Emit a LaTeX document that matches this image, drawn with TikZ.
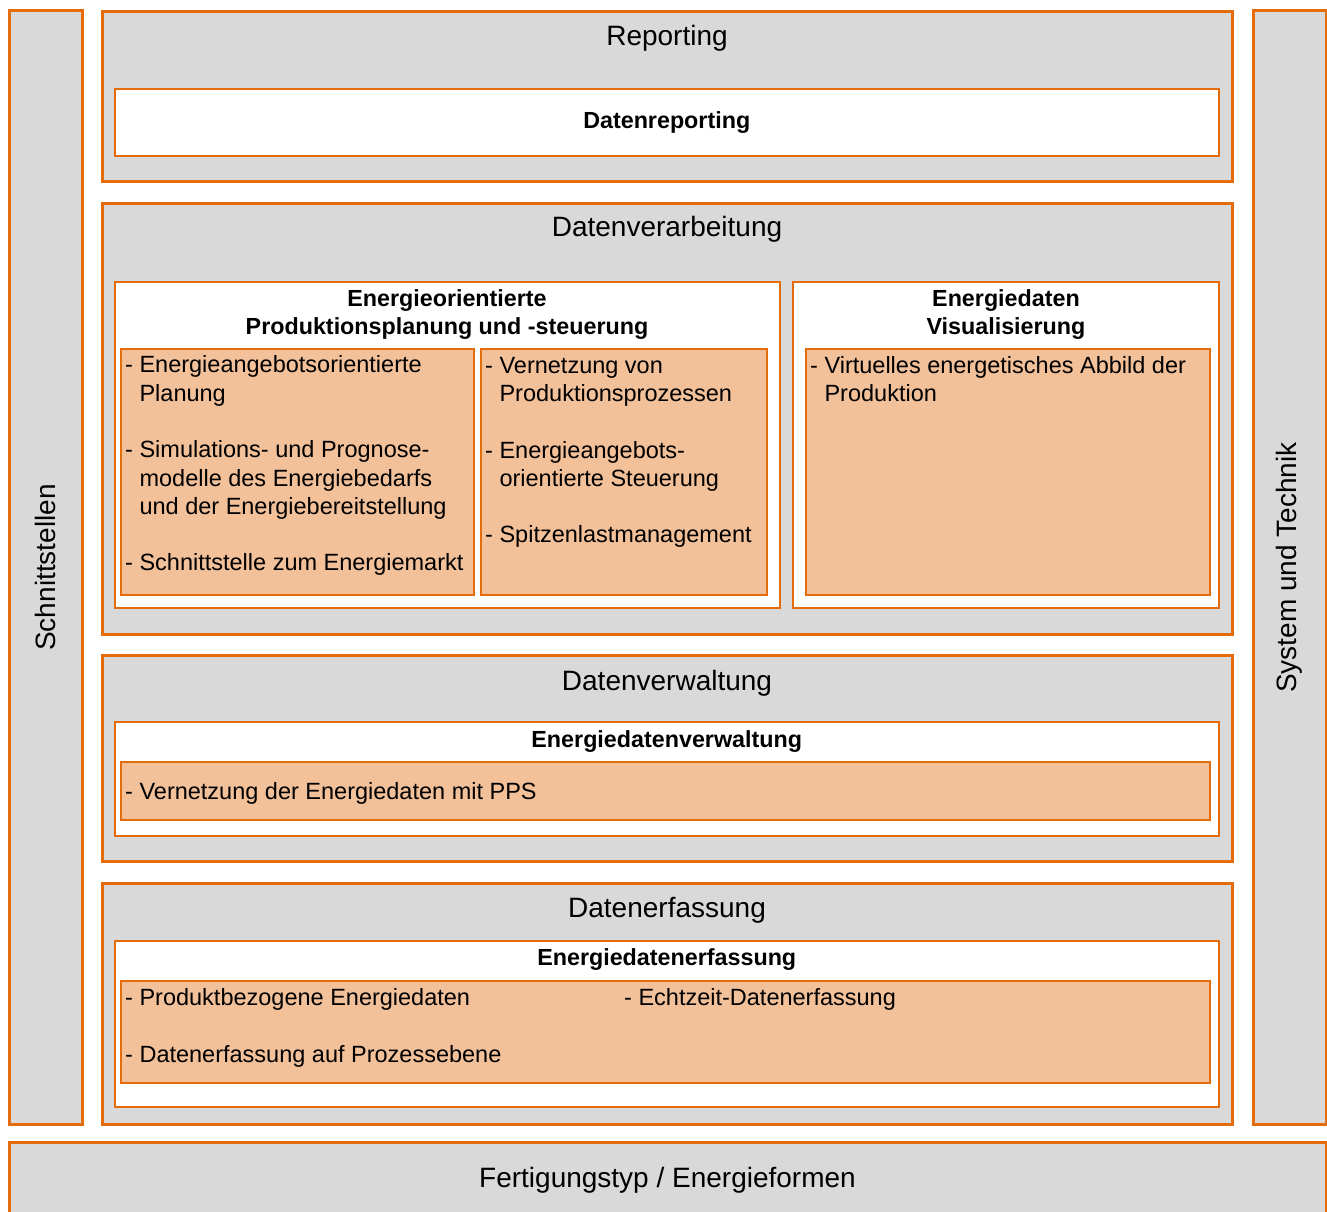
\documentclass[tikz,border=0pt]{standalone}
\usepackage{fontspec}
\setmainfont{Liberation Sans}
\usetikzlibrary{positioning}
\definecolor{ebgorange}{RGB}{228,108,10}
\definecolor{ebggray}{RGB}{217,217,217}
\definecolor{ebgpeach}{RGB}{242,192,153}
\newcommand{\contline}{\phantom{- }}

\begin{document}
\begin{tikzpicture}[x=1pt, y=1pt,
  layer/.style={draw=ebgorange, line width=3pt, fill=ebggray,
    anchor=north west, inner sep=0pt},
  module/.style={draw=ebgorange, line width=2pt, fill=white,
    anchor=north west, inner sep=0pt},
  task/.style={draw=ebgorange, line width=2pt, fill=ebgpeach,
    anchor=north west, inner sep=0pt},
  title/.style={font=\fontsize{28}{33}\selectfont, inner sep=0pt},
  head/.style={font=\bfseries\fontsize{23.3}{28.5}\selectfont, align=center,
    anchor=base, inner sep=0pt},
  item/.style={font=\fontsize{23.5}{28.3}\selectfont, align=left,
    anchor=base west, inner sep=0pt}]
\useasboundingbox (0,0) rectangle (1327,1211);
% Side bars and bottom bar
\node[layer, minimum width=73, minimum height=1113] (schnitt) at (7.5,1201.5) {};
\node[title, rotate=90] (schnittT) at (schnitt.center) {Schnittstellen};
\node[layer, minimum width=73, minimum height=1113] (system) at (1251.5,1201.5) {};
\node[title, rotate=90] (systemT) at (system.center) {System und Technik};
\node[layer, minimum width=1317, minimum height=120] (fert) at (7.5,70.5) {};
\node[title, anchor=base] (fertT) at ([yshift=-47]fert.north) {Fertigungstyp / Energieformen};
% Reporting
\node[layer, minimum width=1130, minimum height=169.5] (rep) at (100.5,1200.5) {};
\node[title, anchor=base] (repT) at ([yshift=-35.5]rep.north) {Reporting};
\node[module, minimum width=1104.5, minimum height=66.5] (repW) at (113.5,1122.5) {};
\node[head] (repH) at ([yshift=-40.5]repW.north) {Datenreporting};
% Datenverarbeitung
\node[layer, minimum width=1130, minimum height=431] (verarb) at (100.5,1008.5) {};
\node[title, anchor=base] (verarbT) at ([yshift=-34.5]verarb.north) {Datenverarbeitung};
\node[module, minimum width=665, minimum height=325.5] (planW) at (113.5,929.5) {};
\node[head] (planH) at ([yshift=-53.5]planW.north) {Energieorientierte\\Produktionsplanung und -steuerung};
\node[module, minimum width=426, minimum height=325.5] (visW) at (792,929.5) {};
\node[head] (visH) at ([yshift=-53.5]visW.north) {Energiedaten\\Visualisierung};
\node[task, minimum width=353, minimum height=246] (planA) at (120,863) {};
\node[item] (planAT) at ([xshift=5, yshift=-223]planA.north west)
  {- Energieangebotsorientierte\\\contline Planung\\[28.3pt]
   - Simulations- und Prognose-\\\contline modelle des Energiebedarfs\\\contline und der Energiebereitstellung\\[28.3pt]
   - Schnittstelle zum Energiemarkt};
\node[task, minimum width=286, minimum height=246] (planB) at (480,863) {};
\node[item] (planBT) at ([xshift=5, yshift=-195]planB.north west)
  {- Vernetzung von\\\contline Produktionsprozessen\\[28.3pt]
   - Energieangebots-\\\contline orientierte Steuerung\\[28.3pt]
   - Spitzenlastmanagement};
\node[task, minimum width=404, minimum height=246] (vis) at (805,863) {};
\node[item] (visT) at ([xshift=5, yshift=-53.5]vis.north west)
  {- Virtuelles energetisches Abbild der\\\contline Produktion};
% Datenverwaltung
\node[layer, minimum width=1130, minimum height=205] (verw) at (100.5,556.5) {};
\node[title, anchor=base] (verwT) at ([yshift=-36]verw.north) {Datenverwaltung};
\node[module, minimum width=1104.5, minimum height=114] (verwW) at (113.5,490) {};
\node[head] (verwH) at ([yshift=-26]verwW.north) {Energiedatenverwaltung};
\node[task, minimum width=1089, minimum height=58] (verwP) at (120,450) {};
\node[item] (verwPT) at ([xshift=5, yshift=-38]verwP.north west) {- Vernetzung der Energiedaten mit PPS};
% Datenerfassung
\node[layer, minimum width=1130, minimum height=240.5] (erf) at (100.5,329) {};
\node[title, anchor=base] (erfT) at ([yshift=-35]erf.north) {Datenerfassung};
\node[module, minimum width=1104.5, minimum height=166] (erfW) at (113.5,271) {};
\node[head] (erfH) at ([yshift=-25]erfW.north) {Energiedatenerfassung};
\node[task, minimum width=1089, minimum height=102] (erfP) at (120,231) {};
\node[item] (erfA) at ([xshift=5, yshift=-82]erfP.north west)
  {- Produktbezogene Energiedaten\\[28.3pt]- Datenerfassung auf Prozessebene};
\node[item] (erfB) at ([xshift=504, yshift=-25]erfP.north west) {- Echtzeit-Datenerfassung};
\end{tikzpicture}
\end{document}
